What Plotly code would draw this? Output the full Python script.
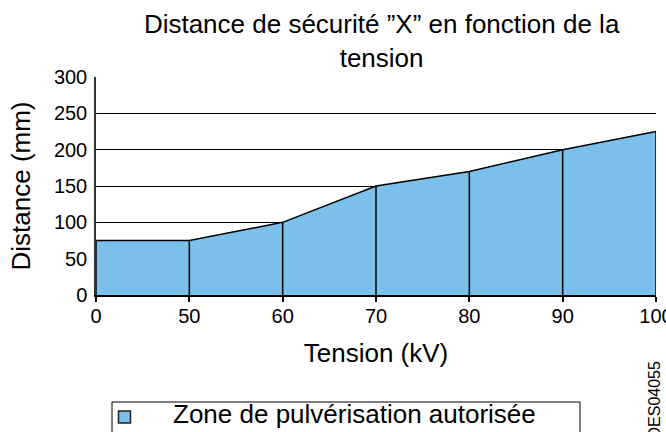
import plotly.graph_objects as go

# Data
tension_kv = ["0", "50", "60", "70", "80", "90", "100"]
distance_mm = [75, 75, 100, 150, 170, 200, 225]
y_ticks = [0, 50, 100, 150, 200, 250, 300]
legend_name = "Zone de pulvérisation autorisée"
title_text = "Distance de sécurité \u201dX\u201d en fonction de la<br>tension"
ref_code = "DES04055"

FILL = "#7AC0EB"
FONT = "Liberation Sans, Arial, sans-serif"

W, H = 666, 432
ML, MR, MT, MB = 96, 10, 77, 137
PW, PH = W - ML - MR, H - MT - MB


def px_x(p):  # pixel -> paper x
    return (p - ML) / PW


def px_y(p):  # pixel -> paper y
    return (H - MB - p) / PH


# vertical separators built from the data
vx, vy = [], []
for c, v in zip(tension_kv, distance_mm):
    vx += [c, c, None]
    vy += [0, v, None]

fig = go.Figure()
fig.add_trace(go.Scatter(
    x=tension_kv, y=distance_mm, mode="lines", fill="tozeroy",
    fillcolor=FILL, line=dict(color="black", width=1.5),
    name=legend_name, showlegend=False, hoverinfo="x+y",
))
fig.add_trace(go.Scatter(
    x=vx, y=vy, mode="lines", line=dict(color="black", width=1.5),
    showlegend=False, hoverinfo="skip",
))

fig.update_layout(
    width=W, height=H,
    margin=dict(l=ML, r=MR, t=MT, b=MB, autoexpand=False),
    paper_bgcolor="white", plot_bgcolor="white",
    font=dict(family=FONT, color="black", size=20),
    title=dict(text=title_text, x=0.573, xanchor="center",
               y=0.923, yref="container", yanchor="top",
               font=dict(size=26, family=FONT, color="black")),
    showlegend=False,
)
fig.update_xaxes(
    type="category", range=[0, 6],
    showline=True, linecolor="black", linewidth=1.5,
    ticks="outside", ticklen=5, tickcolor="black", tickwidth=1.5,
    showgrid=False, zeroline=False, ticklabelstandoff=-3,
    tickfont=dict(size=20),
    title=dict(text="Tension (kV)", font=dict(size=26), standoff=18),
)
fig.update_yaxes(
    range=[0, 300], tickvals=y_ticks,
    showline=True, linecolor="#333", linewidth=1.5,
    showgrid=True, gridcolor="black", gridwidth=1.3,
    zeroline=False, ticks="", ticklabelstandoff=3,
    tickfont=dict(size=20),
    title=dict(text="Distance (mm)", font=dict(size=26), standoff=16),
)

# legend box (drawn as shapes + text)
fig.add_shape(type="rect", xref="paper", yref="paper",
              x0=px_x(112), x1=px_x(580), y0=px_y(402), y1=px_y(445),
              line=dict(color="black", width=1), fillcolor="white")
fig.add_shape(type="rect", xref="paper", yref="paper",
              x0=px_x(118.5), x1=px_x(130.5), y0=px_y(411), y1=px_y(423),
              line=dict(color="#222", width=1.5), fillcolor=FILL)
fig.add_annotation(
    text=legend_name, xref="paper", yref="paper",
    x=px_x(171), y=px_y(414), xanchor="left", yanchor="middle",
    showarrow=False, font=dict(size=26, family=FONT, color="black"),
)
fig.add_annotation(
    text=ref_code, textangle=-90, xref="paper", yref="paper",
    x=px_x(654), y=px_y(360), xanchor="center", yanchor="top",
    showarrow=False, font=dict(size=16, family=FONT, color="black"),
)

fig.write_html("out.html", config={"displayModeBar": False},
               post_script="document.body.style.margin='0';")
